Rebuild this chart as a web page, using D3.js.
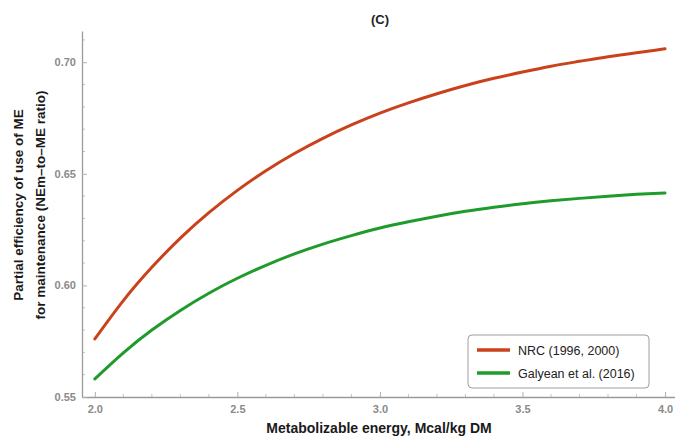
<!DOCTYPE html>
<html>
<head>
<meta charset="utf-8">
<script src="https://cdn.jsdelivr.net/npm/d3@7"></script>
<style>
  html, body { margin: 0; padding: 0; background: #fff; }
  svg { display: block; font-family: "Liberation Sans", Arial, sans-serif; }
</style>
</head>
<body>
<svg id="chart" width="675" height="438"></svg>
<script>
// Metabolizable energy (Mcal/kg DM)
const me = [2.0, 2.1, 2.2, 2.3, 2.4, 2.5, 2.6, 2.7, 2.8, 2.9, 3.0,
            3.1, 3.2, 3.3, 3.4, 3.5, 3.6, 3.7, 3.8, 3.9, 4.0];
// NEm-to-ME ratio, NRC (1996, 2000)
const nrc = [0.5760, 0.5932, 0.6081, 0.6212, 0.6326, 0.6426, 0.6514, 0.6591, 0.6659, 0.6719, 0.6772,
             0.6818, 0.6859, 0.6896, 0.6928, 0.6956, 0.6982, 0.7004, 0.7025, 0.7043, 0.7060];
// NEm-to-ME ratio, Galyean et al. (2016)
const galyean = [0.5581, 0.5698, 0.5800, 0.5888, 0.5965, 0.6032, 0.6090, 0.6141, 0.6185, 0.6223, 0.6257,
                 0.6285, 0.6310, 0.6332, 0.6350, 0.6366, 0.6379, 0.6390, 0.6400, 0.6408, 0.6414];

const seriesNames = ["NRC (1996, 2000)", "Galyean et al. (2016)"];
const xTicks = [2.0, 2.5, 3.0, 3.5, 4.0];
const yTicks = [0.55, 0.60, 0.65, 0.70];

const colors = ["#c9421b", "#1f9b2b"];
const svg = d3.select("#chart");

const x = d3.scaleLinear().domain([1.955, 4.035]).range([82, 675]);
const y = d3.scaleLinear().domain([0.55, 0.714]).range([397, 31]);

const axisColor = "#9a9a9a";
const labelColor = "#8a8a8a";

// Title
svg.append("text")
  .attr("x", 380).attr("y", 24)
  .attr("text-anchor", "middle")
  .attr("font-weight", "bold").attr("font-size", 13)
  .attr("fill", "#222")
  .text("(C)");

// Minor ticks (inward)
const xMinor = d3.range(20, 41).map(v => v / 10).filter(v => !xTicks.some(t => Math.abs(t - v) < 1e-9));
const yMinor = d3.range(55, 72).map(v => v / 100).filter(v => !yTicks.some(t => Math.abs(t - v) < 1e-9));

const ticksG = svg.append("g").attr("stroke", "#c4c4c4").attr("stroke-width", 1);
ticksG.selectAll(".xm").data(xMinor).join("line")
  .attr("x1", d => x(d)).attr("x2", d => x(d))
  .attr("y1", 397).attr("y2", 394);
ticksG.selectAll(".ym").data(yMinor).join("line")
  .attr("x1", 82).attr("x2", 85)
  .attr("y1", d => y(d)).attr("y2", d => y(d));

// X axis
const xAxis = d3.axisBottom(x).tickValues(xTicks).tickFormat(d3.format(".1f")).tickSizeInner(-5).tickSizeOuter(0).tickPadding(8);
const gx = svg.append("g").attr("transform", "translate(0,397)").call(xAxis);
gx.select(".domain").attr("stroke", axisColor).attr("stroke-width", 1.3);
gx.selectAll(".tick line").attr("stroke", "#b0b0b0");
gx.selectAll(".tick text").attr("fill", labelColor).attr("font-size", 11).attr("font-weight", "bold")
  .attr("font-family", "'Liberation Sans', Arial, sans-serif");

// Y axis
const yAxis = d3.axisLeft(y).tickValues(yTicks).tickFormat(d3.format(".2f")).tickSizeInner(-5).tickSizeOuter(0).tickPadding(6);
const gy = svg.append("g").attr("transform", "translate(82,0)").call(yAxis);
gy.select(".domain").attr("stroke", axisColor).attr("stroke-width", 1.3);
gy.selectAll(".tick line").attr("stroke", "#b0b0b0");
gy.selectAll(".tick text").attr("fill", labelColor).attr("font-size", 11).attr("font-weight", "bold")
  .attr("font-family", "'Liberation Sans', Arial, sans-serif");

// Axis titles
svg.append("text")
  .attr("x", 379).attr("y", 433)
  .attr("text-anchor", "middle")
  .attr("font-weight", "bold").attr("font-size", 14)
  .attr("fill", "#1a1a1a")
  .text("Metabolizable energy, Mcal/kg DM");

const yl = svg.append("text")
  .attr("transform", "translate(0,205) rotate(-90)")
  .attr("text-anchor", "middle")
  .attr("font-weight", "bold").attr("font-size", 13.5)
  .attr("fill", "#1a1a1a");
yl.append("tspan").attr("x", 0).attr("y", 23).text("Partial efficiency of use of ME");
yl.append("tspan").attr("x", 0).attr("y", 45).text("for maintenance (NEm\u2013to\u2013ME ratio)");

// Curves
const line = d3.line()
  .x((d, i) => x(me[i]))
  .y(d => y(d))
  .curve(d3.curveNatural);

[nrc, galyean].forEach((vals, k) => {
  svg.append("path")
    .datum(vals)
    .attr("d", line)
    .attr("fill", "none")
    .attr("stroke", colors[k])
    .attr("stroke-width", 3)
    .attr("stroke-linecap", "round");
});

// Legend
const lg = svg.append("g").attr("transform", "translate(468,335)");
lg.append("rect")
  .attr("width", 181).attr("height", 53).attr("rx", 4)
  .attr("fill", "#fff").attr("stroke", "#9e9e9e").attr("stroke-width", 1);
seriesNames.forEach((name, k) => {
  const yy = 15 + k * 23;
  lg.append("line")
    .attr("x1", 9).attr("x2", 42).attr("y1", yy).attr("y2", yy)
    .attr("stroke", colors[k]).attr("stroke-width", 3.5);
  lg.append("text")
    .attr("x", 50).attr("y", yy + 4.5)
    .attr("font-size", 12.5).attr("fill", "#222")
    .text(name);
});
</script>
</body>
</html>
